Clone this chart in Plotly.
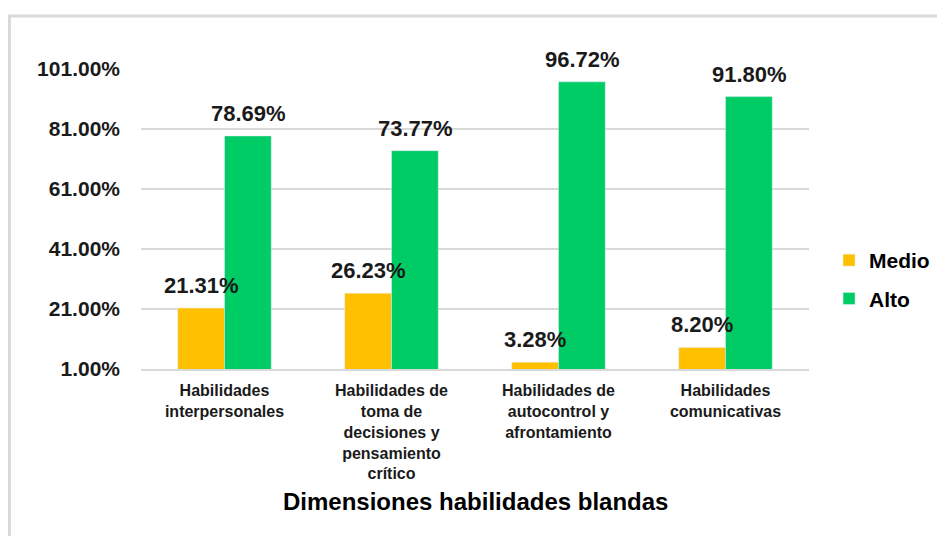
import plotly.graph_objects as go

categories = [
    "Habilidades<br>interpersonales",
    "Habilidades de<br>toma de<br>decisiones y<br>pensamiento<br>crítico",
    "Habilidades de<br>autocontrol y<br>afrontamiento",
    "Habilidades<br>comunicativas",
]
medio = [21.31, 26.23, 3.28, 8.20]
alto = [78.69, 73.77, 96.72, 91.80]
tick_vals = [1, 21, 41, 61, 81, 101]
tick_text = ["1.00%", "21.00%", "41.00%", "61.00%", "81.00%", "101.00%"]

ORANGE = "#FFC000"
GREEN = "#00CC66"
FONT = "Liberation Sans, Arial, sans-serif"

fig = go.Figure()
fig.add_trace(go.Bar(name="Medio", x=categories, y=medio, marker_color=ORANGE,
                     legendgroup="m"))
fig.add_trace(go.Bar(name="Alto", x=categories, y=alto, marker_color=GREEN,
                     legendgroup="a"))

annotations = []
for series, shift in ((medio, -23.5), (alto, 23.5)):
    for c, v in zip(categories, series):
        annotations.append(dict(
            x=c, y=v, xref="x", yref="y", text=f"{v:.2f}%",
            showarrow=False, xshift=shift, yshift=8, yanchor="bottom",
            font=dict(family=FONT, size=22, color="#1a1a1a", weight="bold")))

annotations.append(dict(
    x=0.5, y=-0.44, xref="paper", yref="paper", yanchor="middle",
    text="Dimensiones habilidades blandas", showarrow=False,
    font=dict(family=FONT, size=24, color="#000000", weight="bold")))

fig.update_layout(
    width=937, height=528,
    margin=dict(l=133, r=136, t=61, b=167, autoexpand=False),
    paper_bgcolor="white", plot_bgcolor="white",
    barmode="group", bargap=0.44, bargroupgap=0,
    font=dict(family=FONT, color="#1a1a1a"),
    annotations=annotations,
    legend=dict(x=1.030, y=0.43, xanchor="left", yanchor="top",
                font=dict(family=FONT, size=21, color="#000000", weight="bold"),
                tracegroupgap=8, bgcolor="rgba(0,0,0,0)"),
    shapes=[dict(type="rect", xref="paper", yref="paper",
                 x0=-0.197, x1=1.25, y0=-0.62, y1=1.177,
                 line=dict(color="#D9D9D9", width=3), layer="below")],
)

fig.update_xaxes(
    showgrid=False, showline=True, linecolor="#D9D9D9", linewidth=2,
    ticks="", ticklabelstandoff=6,
    tickfont=dict(family=FONT, size=16, color="#1a1a1a", weight="bold"),
)
fig.update_yaxes(
    range=[1, 101], tickvals=tick_vals, ticktext=tick_text,
    showgrid=True, gridcolor="#D9D9D9", gridwidth=1.5,
    zeroline=False, showline=False, ticks="", ticklabelstandoff=20,
    tickfont=dict(family=FONT, size=21, color="#1a1a1a", weight="bold"),
)

fig.write_html("out.html")
